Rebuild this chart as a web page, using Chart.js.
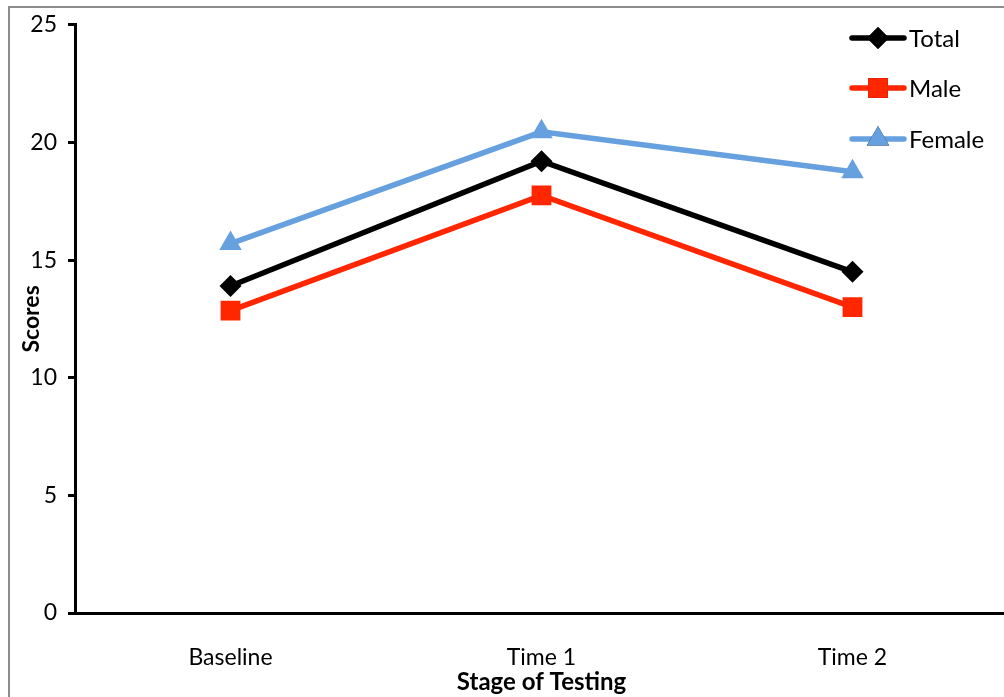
<!DOCTYPE html>
<html><head><meta charset="utf-8">
<script src="https://cdn.jsdelivr.net/npm/chart.js@4/dist/chart.umd.min.js"></script>
<style>
html,body{margin:0;padding:0;background:#fff;overflow:hidden;}
#wrap{position:relative;width:1004px;height:697px;overflow:hidden;}
#frame{position:absolute;left:8px;top:6px;width:1030px;height:700px;border:2px solid #8c8c8c;box-sizing:border-box;}
canvas{position:absolute;left:0;top:0;}
</style>
</head><body>
<div id="wrap"><div id="frame"></div><canvas id="c" width="1022" height="697"></canvas></div>
<script>
const categories = ['Baseline', 'Time 1', 'Time 2'];
const totalScores = [13.9, 19.2, 14.5];
const maleScores = [12.85, 17.75, 13.0];
const femaleScores = [15.7, 20.45, 18.75];
const yTicks = [0, 5, 10, 15, 20, 25];

const FONT = 'Lato, "Open Sans", sans-serif';

const legendPlugin = {
  id: 'customLegend',
  afterDraw(chart) {
    const ctx = chart.ctx;
    const ys = [38, 88, 139];
    chart.data.datasets.forEach((ds, i) => {
      const y = ys[i];
      ctx.save();
      ctx.strokeStyle = ds.borderColor;
      ctx.lineWidth = ds.borderWidth;
      ctx.lineCap = 'round';
      ctx.beginPath();
      ctx.moveTo(852, y);
      ctx.lineTo(904, y);
      ctx.stroke();
      Chart.helpers.drawPoint(ctx, {
        pointStyle: ds.pointStyle,
        radius: ds.pointRadius,
        borderWidth: 0
      }, 878, y);
      ctx.fillStyle = ds.pointBackgroundColor;
      ctx.fill();
      ctx.fillStyle = '#000';
      ctx.font = '24px ' + FONT;
      ctx.textBaseline = 'middle';
      ctx.textAlign = 'left';
      ctx.fillText(ds.label, 909, y + 1);
      ctx.restore();
    });
  }
};

new Chart(document.getElementById('c'), {
  type: 'line',
  data: {
    labels: categories,
    datasets: [
      { label: 'Total', data: totalScores, borderColor: '#000000', backgroundColor: '#000000',
        pointBackgroundColor: '#000000', pointBorderWidth: 0, borderWidth: 5.5, pointStyle: 'rectRot', pointRadius: 11 },
      { label: 'Male', data: maleScores, borderColor: '#FF2600', backgroundColor: '#FF2600',
        pointBackgroundColor: '#FF2600', pointBorderWidth: 0, borderWidth: 5.5, pointStyle: 'rect', pointRadius: 14 },
      { label: 'Female', data: femaleScores, borderColor: '#66A0DE', backgroundColor: '#66A0DE',
        pointBackgroundColor: '#66A0DE', pointBorderWidth: 0, borderWidth: 5.5, pointStyle: 'triangle', pointRadius: 13 }
    ]
  },
  options: {
    responsive: false,
    animation: false,
    devicePixelRatio: 1,
    layout: { padding: { top: 22, right: 0, left: 0, bottom: 0 } },
    plugins: { legend: { display: false }, tooltip: { enabled: false } },
    elements: { line: { tension: 0 } },
    scales: {
      x: {
        offset: true,
        grid: { display: false, drawTicks: false },
        border: { display: true, color: '#000', width: 3 },
        ticks: { color: '#000', font: { family: FONT, size: 23 }, padding: 31 },
        title: { display: true, text: 'Stage of Testing', color: '#000',
                 font: { family: FONT, size: 24, weight: 'bold' }, padding: { top: 0, bottom: 0 } },
        afterFit(s) { s.height = 84; }
      },
      y: {
        min: 0, max: 25,
        afterBuildTicks(s) { s.ticks = yTicks.map(v => ({ value: v })); },
        grid: { drawOnChartArea: false, drawTicks: true, tickLength: 7, color: '#000', lineWidth: 3 },
        border: { display: true, color: '#000', width: 3 },
        ticks: { color: '#000', font: { family: FONT, size: 23 }, padding: 11 },
        title: { display: true, text: 'Scores', color: '#000',
                 font: { family: FONT, size: 23, weight: 'bold' }, padding: { top: 18, bottom: 0 } },
        afterFit(s) { s.width = 75; }
      }
    }
  },
  plugins: [legendPlugin]
});
</script>
</body></html>
